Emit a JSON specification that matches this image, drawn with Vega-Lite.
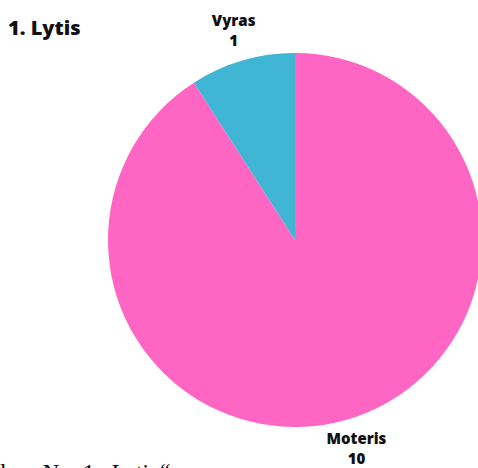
{
  "$schema": "https://vega.github.io/schema/vega-lite/v6.json",
  "width": 366,
  "height": 456,
  "autosize": "none",
  "padding": {"left": 112, "top": 12, "right": 0, "bottom": 0},
  "background": "white",
  "config": {"view": {"stroke": null}},
  "title": {
    "text": "1. Lytis",
    "anchor": "start",
    "frame": "group",
    "font": "Open Sans",
    "fontSize": 20,
    "fontWeight": 800,
    "color": "#111111",
    "dx": -104,
    "dy": 27,
    "offset": 0
  },
  "data": {
    "values": [
      {"category": "Moteris", "count": 10},
      {"category": "Vyras", "count": 1}
    ]
  },
  "layer": [
    {
      "mark": {"type": "arc", "outerRadius": 187, "stroke": null},
      "encoding": {
        "theta": {"field": "count", "type": "quantitative", "stack": true},
        "order": {"field": "category"},
        "color": {
          "field": "category",
          "type": "nominal",
          "scale": {"domain": ["Moteris", "Vyras"], "range": ["#FF66C4", "#41B6D4"]},
          "legend": null
        }
      }
    },
    {
      "mark": {"type": "text", "radius": 218, "dy": -10, "font": "Open Sans", "fontSize": 15, "fontWeight": 800, "color": "#111111"},
      "encoding": {
        "theta": {"field": "count", "type": "quantitative", "stack": true},
        "order": {"field": "category"},
        "text": {"field": "category"}
      }
    },
    {
      "mark": {"type": "text", "radius": 218, "dy": 10, "font": "Open Sans", "fontSize": 15, "fontWeight": 800, "color": "#111111"},
      "encoding": {
        "theta": {"field": "count", "type": "quantitative", "stack": true},
        "order": {"field": "category"},
        "text": {"field": "count"}
      }
    },
    {
      "data": {"values": [{"caption": "les\u00a0\u00a0\u00a0Nr.\u00a0\u00a01.\u00a0\u00a0Lyti\u00a0\u00a0“"}]},
      "mark": {"type": "text", "align": "left", "baseline": "alphabetic", "font": "Liberation Serif", "fontSize": 23, "color": "#000000"},
      "encoding": {
        "x": {"value": -112},
        "y": {"value": 468},
        "text": {"field": "caption"}
      }
    }
  ]
}
